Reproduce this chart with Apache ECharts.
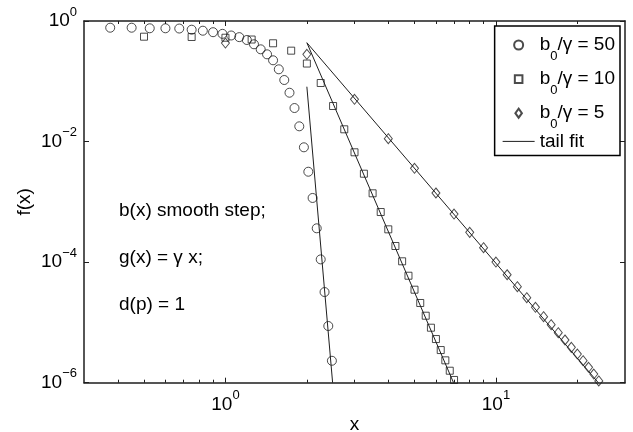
<!DOCTYPE html>
<html>
<head>
<meta charset="utf-8">
<script src="https://cdn.jsdelivr.net/npm/echarts@6/dist/echarts.min.js"></script>
<style>html,body{margin:0;padding:0;background:#fff;}#c{width:633px;height:432px;}</style>
</head>
<body>
<div id="c"></div>
<script>
// ---- data ----
const circleX = [0.375, 0.45, 0.525, 0.6, 0.675, 0.75, 0.825, 0.9, 0.975, 1.05, 1.125, 1.2, 1.275, 1.35, 1.425, 1.5, 1.575, 1.65, 1.725, 1.8, 1.875, 1.95, 2.025, 2.1, 2.175, 2.25, 2.325, 2.4, 2.475];
const circleY = [0.774, 0.774, 0.757, 0.757, 0.75, 0.717, 0.690, 0.652, 0.612, 0.575, 0.54, 0.484, 0.411, 0.339, 0.280, 0.223, 0.158, 0.105, 0.0646, 0.0360, 0.0179, 0.00803, 0.00316, 0.00116, 3.64e-4, 1.11e-4, 3.19e-5, 8.72e-6, 2.31e-6];
const squareX = [0.5, 0.75, 1.0, 1.25, 1.5, 1.75, 2.0, 2.25, 2.5, 2.75, 3.0, 3.25, 3.5, 3.75, 4.0, 4.25, 4.5, 4.75, 5.0, 5.25, 5.5, 5.75, 6.0, 6.25, 6.5, 6.75, 7.0];
const squareY = [0.549, 0.543, 0.528, 0.493, 0.427, 0.322, 0.197, 0.0936, 0.0389, 0.01597, 0.00664, 0.00293, 0.001386, 6.78e-4, 3.50e-4, 1.851e-4, 1.032e-4, 5.95e-5, 3.49e-5, 2.10e-5, 1.292e-5, 8.17e-6, 5.30e-6, 3.48e-6, 2.35e-6, 1.58e-6, 1.11e-6];
const diamondX = [1, 2, 3, 4, 5, 6, 7, 8, 9, 10, 11, 12, 13, 14, 15, 16, 17, 18, 19, 20, 21, 22, 23, 24];
const diamondY = [0.431, 0.280, 0.0502, 0.01115, 0.0036, 0.001402, 6.28e-4, 3.12e-4, 1.734e-4, 1.004e-4, 6.18e-5, 3.91e-5, 2.57e-5, 1.78e-5, 1.243e-5, 9.16e-6, 6.75e-6, 5.11e-6, 3.86e-6, 2.99e-6, 2.32e-6, 1.80e-6, 1.39e-6, 1.07e-6];
const fit50X = [2.0, 2.49];
const fit50Y = [0.0813, 1e-6];
const fit10X = [2.0, 6.97];
const fit10Y = [0.436, 1e-6];
const fit5X = [2.0, 23.9];
const fit5Y = [0.436, 1e-6];
const xMajorTicks = [1, 10];
const xMinorTicks = [0.4, 0.5, 0.6, 0.7, 0.8, 0.9, 2, 3, 4, 5, 6, 7, 8, 9, 20];
const yMajorTicks = [1e-6, 1e-4, 1e-2, 1];
const seriesNames = ['b0/\u03b3 = 50', 'b0/\u03b3 = 10', 'b0/\u03b3 = 5', 'tail fit'];
const notes = ['b(x) smooth step;', 'g(x) = \u03b3 x;', 'd(p) = 1'];

// ---- chart ----
const FONT = '"Liberation Sans", Arial, Helvetica, sans-serif';
const INK = '#1e1e1e';
const zip = (xs, ys) => xs.map((x, i) => [x, ys[i]]);

function powLabel(v) {
  const e = Math.round(Math.log10(v));
  return '{b|10}{s|' + (e < 0 ? '\u2212' + (-e) : String(e)) + '}';
}
const powRich = {
  b: { fontSize: 19, fontFamily: FONT, color: '#000', lineHeight: 31, verticalAlign: 'middle' },
  s: { fontSize: 13, fontFamily: FONT, color: '#000', lineHeight: 31, verticalAlign: 'top', padding: [0, 0, 18, 0] }
};

const axLine = { show: true, onZero: false, lineStyle: { color: INK, width: 1.5 } };
function xAx(pos, minor, labels) {
  return {
    type: 'log', gridIndex: 0, min: 0.3, max: 30, position: pos,
    axisLine: minor ? { show: false, onZero: false } : axLine,
    axisTick: { show: true, inside: true, length: minor ? 3 : 5, customValues: minor ? xMinorTicks : xMajorTicks, lineStyle: { color: INK, width: 1 } },
    axisLabel: labels ? { show: true, customValues: xMajorTicks, formatter: powLabel, rich: powRich, margin: 6.5 } : { show: false },
    splitLine: { show: false }, minorTick: { show: false },
    name: labels ? 'x' : '', nameLocation: 'middle', nameGap: 33, nameMoveOverlap: false,
    nameTextStyle: { fontSize: 19, fontFamily: FONT, color: '#000' }
  };
}
function yAx(pos, labels) {
  return {
    type: 'log', gridIndex: 0, min: 1e-6, max: 1, position: pos,
    axisLine: axLine,
    axisTick: { show: true, inside: true, length: 5, customValues: yMajorTicks, lineStyle: { color: INK, width: 1 } },
    axisLabel: labels ? { show: true, customValues: yMajorTicks, formatter: powLabel, rich: powRich, margin: 7 } : { show: false },
    splitLine: { show: false }, minorTick: { show: false },
    name: labels ? 'f(x)' : '', nameLocation: 'middle', nameGap: 50, nameMoveOverlap: false,
    nameTextStyle: { fontSize: 19, fontFamily: FONT, color: '#000' }
  };
}

const hollow = { color: 'transparent', borderColor: INK, borderWidth: 1 };
const fitLine = (xs, ys) => ({
  name: seriesNames[3], type: 'line', data: zip(xs, ys), symbol: 'none', showSymbol: false,
  lineStyle: { color: INK, width: 1 }, itemStyle: { color: INK }, clip: true, z: 1
});

// legend icons: the first two moveTo points fix the icon box to itemWidth x itemHeight (32 x 9)
const ICON_CIRCLE = 'path://M0,0M32,9M20.6,4.5A4.6,4.6,0,1,1,11.4,4.5A4.6,4.6,0,1,1,20.6,4.5Z';
const ICON_SQUARE = 'path://M0,0M32,9M12.2,0.7H19.8V8.3H12.2Z';
const ICON_DIAMOND = 'path://M0,0M32,9M16,-1L20,4.5L16,10L12,4.5Z';

const option = {
  animation: false,
  backgroundColor: '#fff',
  grid: { left: 84, top: 21, right: 8, bottom: 49.3, containLabel: false, outerBoundsMode: 'none' },
  xAxis: [xAx('bottom', false, true), xAx('bottom', true, false), xAx('top', false, false), xAx('top', true, false)],
  yAxis: [yAx('left', true), yAx('right', false)],
  legend: {
    orient: 'vertical', right: 13, top: 26,
    backgroundColor: '#fff', borderColor: '#000', borderWidth: 1.5, borderRadius: 0,
    padding: [1, 5, 2, 7], itemGap: -1.7, itemWidth: 32, itemHeight: 9,
    selectedMode: false,
    data: [
      { name: seriesNames[0], icon: ICON_CIRCLE },
      { name: seriesNames[1], icon: ICON_SQUARE },
      { name: seriesNames[2], icon: ICON_DIAMOND },
      { name: seriesNames[3], itemStyle: { color: 'transparent', borderColor: 'transparent', borderWidth: 0 }, lineStyle: { color: INK, width: 1 } }
    ],
    formatter: n => n.indexOf('b0') === 0 ? '{m|b}{sub|0}{m|' + n.slice(2) + '}' : '{t|' + n + '}',
    textStyle: {
      fontSize: 19, fontFamily: FONT, color: '#000',
      rich: {
        m: { fontSize: 19, fontFamily: FONT, color: '#000', lineHeight: 36, verticalAlign: 'top', padding: [8.5, 0, 0, 0] },
        sub: { fontSize: 13, fontFamily: FONT, color: '#000', lineHeight: 36, verticalAlign: 'top', padding: [22.8, 0, 0, 0] },
        t: { fontSize: 19, fontFamily: FONT, color: '#000', lineHeight: 24, verticalAlign: 'middle', padding: [2.6, 0, 2.6, 0] }
      }
    }
  },
  graphic: notes.map((t, i) => ({
    type: 'text', x: 119, y: [210.7, 257.7, 305][i], z: 10,
    style: { text: t, font: '19px ' + FONT, fill: '#000', verticalAlign: 'middle', textVerticalAlign: 'middle' }
  })),
  series: [
    { name: seriesNames[0], type: 'scatter', data: zip(circleX, circleY), symbol: 'circle', symbolSize: 9, itemStyle: hollow, z: 2 },
    { name: seriesNames[1], type: 'scatter', data: zip(squareX, squareY), symbol: 'rect', symbolSize: 7, itemStyle: hollow, z: 2 },
    { name: seriesNames[2], type: 'scatter', data: zip(diamondX, diamondY), symbol: 'diamond', symbolSize: [8, 10], itemStyle: hollow, z: 2 },
    fitLine(fit50X, fit50Y),
    fitLine(fit10X, fit10Y),
    fitLine(fit5X, fit5Y)
  ]
};

const chart = echarts.init(document.getElementById('c'), null, { renderer: 'canvas' });
chart.setOption(option);
</script>
</body>
</html>
